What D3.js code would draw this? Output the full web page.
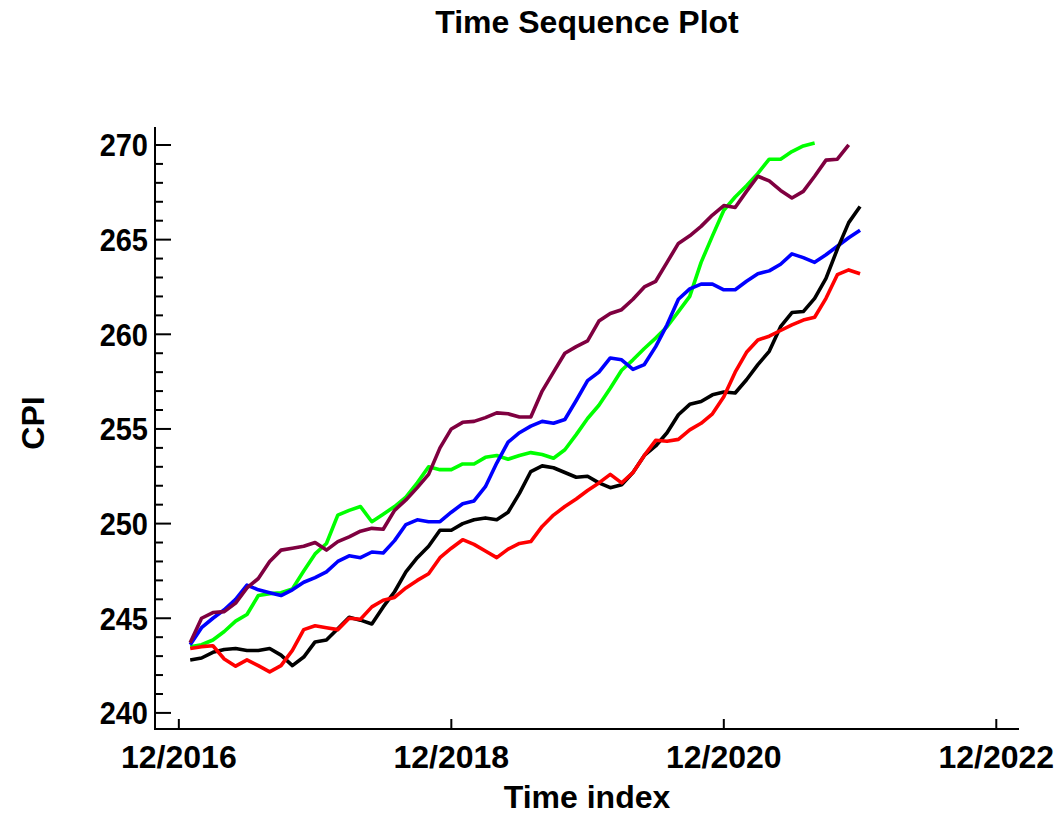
<!DOCTYPE html>
<html>
<head>
<meta charset="utf-8">
<script src="https://cdn.jsdelivr.net/npm/d3@7/dist/d3.min.js"></script>
<style>
  html, body { margin: 0; padding: 0; background: #fff; }
  svg { display: block; }
  text { font-family: "Liberation Sans", Arial, sans-serif; font-weight: bold; fill: #000; }
</style>
</head>
<body>
<svg id="chart" width="1060" height="816"></svg>
<script>
// Month index: 0 = 12/2016, 1 = 1/2017, ...
const tickMonths = [0, 24, 48, 72];
const tickLabels = ["12/2016", "12/2018", "12/2020", "12/2022"];
const yTicks = [240, 245, 250, 255, 260, 265, 270];

const seriesGreen = [243.5,243.6,243.85,244.3,244.85,245.2,246.2,246.3,246.35,246.55,
  247.5,248.4,248.95,250.45,250.7,250.9,250.1,250.5,250.9,251.4,
  252.15,253.0,252.85,252.85,253.15,253.15,253.5,253.6,253.4,253.6,
  253.75,253.65,253.45,253.9,254.7,255.55,256.25,257.15,258.1,258.65,
  259.25,259.8,260.4,261.2,262.0,263.8,265.2,266.55,267.25,267.85,
  268.5,269.25,269.25,269.65,269.95,270.1];
const seriesBlue = [243.6,244.5,245.0,245.45,246.0,246.75,246.5,246.35,246.2,246.5,
  246.9,247.15,247.45,248.0,248.3,248.2,248.5,248.45,249.1,249.95,
  250.2,250.1,250.1,250.6,251.05,251.2,251.95,253.2,254.3,254.8,
  255.15,255.4,255.3,255.5,256.5,257.55,258.0,258.75,258.65,258.15,
  258.4,259.35,260.5,261.85,262.4,262.65,262.65,262.35,262.35,262.8,
  263.2,263.35,263.7,264.25,264.05,263.8,264.2,264.65,265.1,265.5];
const seriesPurple = [243.7,245.0,245.3,245.35,245.8,246.6,247.1,248.0,248.6,248.7,
  248.8,249.0,248.6,249.05,249.3,249.6,249.75,249.7,250.7,251.25,
  251.9,252.6,254.0,255.0,255.35,255.4,255.6,255.85,255.8,255.63,
  255.63,257.0,258.0,259.0,259.35,259.65,260.7,261.1,261.3,261.85,
  262.5,262.8,263.8,264.8,265.2,265.7,266.3,266.8,266.7,267.55,
  268.35,268.1,267.6,267.2,267.55,268.35,269.2,269.25,270.0];
const seriesBlack = [242.8,242.9,243.2,243.35,243.4,243.3,243.3,243.4,243.05,242.5,
  242.95,243.75,243.85,244.45,245.05,244.9,244.7,245.6,246.4,247.45,
  248.2,248.8,249.65,249.65,250.0,250.2,250.3,250.2,250.6,251.6,
  252.75,253.05,252.95,252.7,252.45,252.5,252.15,251.9,252.05,252.7,
  253.6,254.1,254.8,255.75,256.3,256.45,256.8,256.95,256.9,257.6,
  258.4,259.1,260.4,261.15,261.2,261.9,262.95,264.5,265.9,266.75];
const seriesRed = [243.4,243.5,243.55,242.85,242.47,242.8,242.5,242.17,242.5,243.3,
  244.4,244.6,244.5,244.4,245.0,244.95,245.6,245.95,246.1,246.6,
  247.0,247.35,248.2,248.7,249.15,248.9,248.55,248.2,248.65,248.95,
  249.05,249.85,250.45,250.9,251.3,251.75,252.15,252.6,252.15,252.7,
  253.6,254.4,254.35,254.45,254.95,255.3,255.8,256.7,258.0,259.05,
  259.7,259.9,260.2,260.5,260.75,260.9,261.9,263.15,263.4,263.2];

const seriesList = [
  { values: seriesGreen,  color: "#00ff00" },
  { values: seriesBlue,   color: "#0000ff" },
  { values: seriesPurple, color: "#7f0040" },
  { values: seriesBlack,  color: "#000000" },
  { values: seriesRed,    color: "#ff0000" }
];

(function () {
const svg = d3.select("#chart");
const pLeft = 155, pRight = 1019, pTop = 127, pBottom = 729;

const x = d3.scaleLinear().domain([-2.1, 74]).range([pLeft, pRight]);
const y = d3.scaleLinear().domain([239.15, 270.95]).range([pBottom, pTop]);

// title
svg.append("text").attr("x", 587).attr("y", 33).attr("text-anchor", "middle")
  .style("font-size", "32px").text("Time Sequence Plot");

// axes lines
const g = svg.append("g").attr("stroke", "#000").attr("stroke-width", 2).attr("fill", "none");
g.append("line").attr("x1", pLeft).attr("x2", pLeft).attr("y1", pTop).attr("y2", pBottom);
g.append("line").attr("x1", pLeft - 1).attr("x2", pRight).attr("y1", pBottom).attr("y2", pBottom);

// y minor ticks
const minor = d3.range(240, 271, 1).filter(v => !yTicks.includes(v));
g.selectAll(".ymin").data(minor).join("line")
  .attr("x1", pLeft).attr("x2", pLeft + 8).attr("y1", d => y(d)).attr("y2", d => y(d));
g.selectAll(".ymaj").data(yTicks).join("line")
  .attr("x1", pLeft).attr("x2", pLeft + 16).attr("y1", d => y(d)).attr("y2", d => y(d));
g.selectAll(".xmaj").data(tickMonths).join("line")
  .attr("x1", d => x(d)).attr("x2", d => x(d)).attr("y1", pBottom).attr("y2", pBottom - 10);

// y tick labels
svg.selectAll(".ylab").data(yTicks).join("text")
  .attr("transform", d => `translate(148,${y(d)}) scale(1,1.1)`)
  .attr("dy", "0.36em").attr("text-anchor", "end")
  .style("font-size", "29px").text(d => d);
// x tick labels
svg.selectAll(".xlab").data(tickMonths).join("text")
  .attr("x", d => x(d)).attr("y", 768).attr("text-anchor", "middle")
  .style("font-size", "32px").text((d, i) => tickLabels[i]);

// axis titles
svg.append("text").attr("x", 587).attr("y", 808).attr("text-anchor", "middle")
  .style("font-size", "32px").text("Time index");
svg.append("text").attr("transform", "translate(44,423) rotate(-90)").attr("text-anchor", "middle")
  .style("font-size", "32px").text("CPI");

// lines
const line = d3.line().x((d, i) => x(i + 1)).y(d => y(d));
svg.append("g").selectAll("path").data(seriesList).join("path")
  .attr("d", d => line(d.values))
  .attr("fill", "none")
  .attr("stroke", d => d.color)
  .attr("stroke-width", 3.6)
  .attr("stroke-linejoin", "round");
})();
</script>
</body>
</html>
